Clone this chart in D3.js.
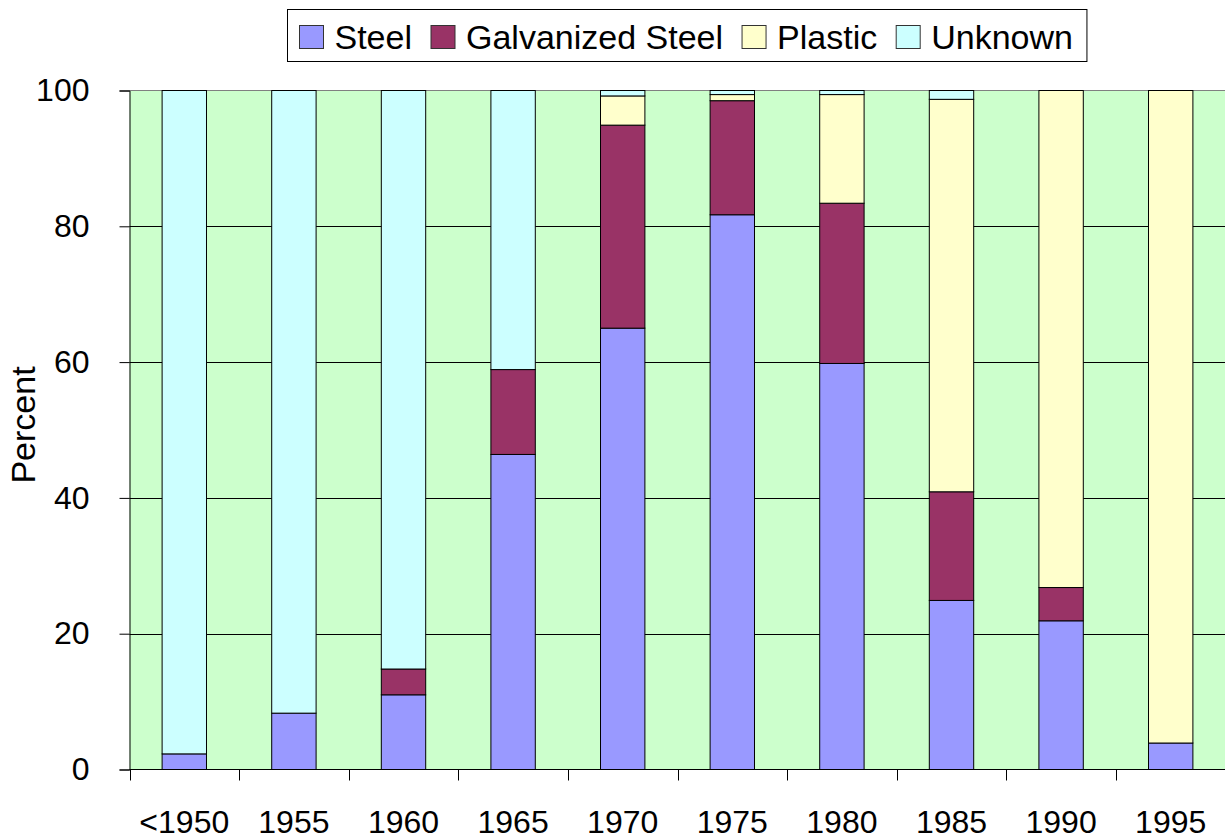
<!DOCTYPE html>
<html><head><meta charset="utf-8">
<script src="https://cdn.jsdelivr.net/npm/d3@7"></script>
<style>body{margin:0;background:#fff}svg{display:block}text{font-family:"Liberation Sans",Arial,sans-serif}</style>
</head><body>
<script>
const categories = ["<1950","1955","1960","1965","1970","1975","1980","1985","1990","1995"];
const seriesNames = ["Steel","Galvanized Steel","Plastic","Unknown"];
const seriesColors = ["#9999FF","#993366","#FFFFCC","#CCFFFF"];
const steel      = [2.3, 8.3, 11.0, 46.4, 65.0, 81.7, 59.8, 24.9, 21.9, 3.9];
const galvanized = [0,   0,   3.8,  12.5, 29.9, 16.8, 23.6, 16.0, 4.9,  0];
const plastic    = [0,   0,   0,    0,    4.3,  0.9,  16.0, 57.8, 73.2, 96.1];
const unknown    = [97.7,91.7,85.2, 41.1, 0.8,  0.6,  0.6,  1.3,  0,    0];
const yTicks = [0,20,40,60,80,100];

const W=1225,H=840;
const m={left:129.5,right:0,top:90.5,bottom:70.5};
const svg=d3.select("body").append("svg").attr("width",W).attr("height",H);

const x=d3.scaleBand().domain(categories).range([m.left,W+0.5]).paddingInner(0.595).paddingOuter(0.2975);
const y=d3.scaleLinear().domain([0,100]).range([H-m.bottom,m.top]);

// plot background
svg.append("rect").attr("x",m.left).attr("y",m.top).attr("width",W-m.left).attr("height",y(0)-m.top).attr("fill","#CCFFCC");
// top border
svg.append("line").attr("x1",m.left).attr("x2",W).attr("y1",m.top).attr("y2",m.top).attr("stroke","#808080").attr("stroke-width",1);
// gridlines
svg.append("g").selectAll("line").data(yTicks.filter(d=>d>0&&d<100)).join("line")
  .attr("x1",m.left).attr("x2",W).attr("y1",d=>Math.round(y(d))+0.5).attr("y2",d=>Math.round(y(d))+0.5)
  .attr("stroke","#000").attr("stroke-width",1);

const rows=categories.map((c,i)=>({cat:c,Steel:steel[i],"Galvanized Steel":galvanized[i],Plastic:plastic[i],Unknown:unknown[i]}));
const stacked=d3.stack().keys(seriesNames)(rows);
svg.append("g").selectAll("g").data(stacked).join("g").attr("fill",(d,i)=>seriesColors[i])
  .selectAll("rect").data(d=>d.filter(p=>p[1]-p[0]>0)).join("rect")
  .attr("x",d=>x(d.data.cat)).attr("width",x.bandwidth())
  .attr("y",d=>y(d[1])).attr("height",d=>y(d[0])-y(d[1]))
  .attr("stroke","#000").attr("stroke-width",1);

// y axis
const yAxis=d3.axisLeft(y).tickValues(yTicks).tickSize(10).tickPadding(30);
const gy=svg.append("g").attr("transform",`translate(${m.left},0)`).call(yAxis);
gy.select(".domain").attr("stroke","#000");
gy.selectAll("text").attr("font-size",32).attr("font-family","Liberation Sans, Arial, sans-serif").attr("fill","#000");

// x axis
const gx=svg.append("g").attr("transform",`translate(0,${y(0)})`);
gx.append("line").attr("x1",m.left).attr("x2",W).attr("stroke","#000");
const step=x.step();
const bounds=d3.range(categories.length+1).map(i=>m.left+i*step);
gx.selectAll("line.t").data(bounds).join("line").attr("class","t")
  .attr("x1",d=>Math.round(d)+0.5).attr("x2",d=>Math.round(d)+0.5).attr("y1",0).attr("y2",11).attr("stroke","#000");
gx.selectAll("text").data(categories).join("text")
  .attr("x",d=>x(d)+x.bandwidth()/2).attr("y",63).attr("text-anchor","middle")
  .attr("font-size",32).attr("fill","#000").text(d=>d);

// y title
svg.append("text").attr("transform","translate(35,425) rotate(-90)").attr("text-anchor","middle")
  .attr("font-size",34).attr("fill","#000").text("Percent");

// legend
const lg=svg.append("g");
const box=lg.append("rect").attr("x",287.5).attr("y",9.5).attr("height",52).attr("fill","#fff").attr("stroke","#000").attr("stroke-width",1);
let cx=299.5;
seriesNames.forEach((n,i)=>{
  lg.append("rect").attr("x",cx).attr("y",25.5).attr("width",24).attr("height",23).attr("fill",seriesColors[i]).attr("stroke","#333");
  const t=lg.append("text").attr("x",cx+35).attr("y",49).attr("font-size",34).attr("fill","#000").text(n);
  const w=t.node().getComputedTextLength();
  cx=cx+35+w+19;
});
box.attr("width",cx-19+14-287.5);
</script>
</body></html>
